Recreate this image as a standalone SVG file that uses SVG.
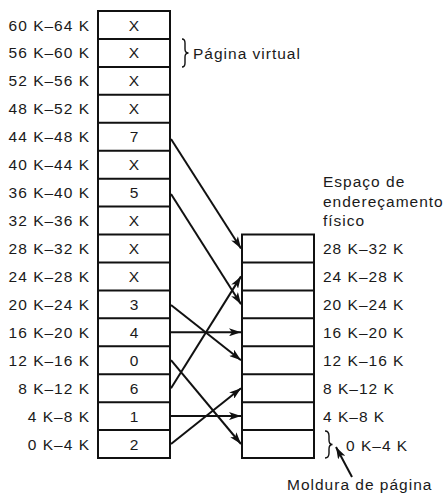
<svg xmlns="http://www.w3.org/2000/svg" width="446" height="495" viewBox="0 0 446 495">
<style>
text{font-family:"Liberation Sans",Arial,sans-serif;font-size:15.5px;letter-spacing:1px;fill:#1a1a1a}
.lbl{text-anchor:end}
.val{text-anchor:middle}
.box{fill:#fff;stroke:#111;stroke-width:2}
.arr{stroke:#111;stroke-width:2;fill:none;marker-end:url(#ah)}
.brace{stroke:#111;stroke-width:1.4;fill:none}
</style>
<defs>
<marker id="ah" viewBox="0 0 12 8" refX="12" refY="4" markerWidth="12" markerHeight="8" orient="auto" markerUnits="userSpaceOnUse">
<path d="M0,0 L12,4 L0,8 L3,4 z" fill="#111"/>
</marker>
</defs>
<rect width="446" height="495" fill="#fff"/>

<g id="virtual">
<rect class="box" x="98" y="11" width="72" height="447"/>
<path stroke="#111" stroke-width="2" d="M98,38.94H170M98,66.88H170M98,94.81H170M98,122.75H170M98,150.69H170M98,178.63H170M98,206.56H170M98,234.5H170M98,262.44H170M98,290.38H170M98,318.31H170M98,346.25H170M98,374.19H170M98,402.13H170M98,430.06H170"/>
<text class="lbl" x="90" y="30.5">60 K–64 K</text>
<text class="lbl" x="90" y="58.4">56 K–60 K</text>
<text class="lbl" x="90" y="86.3">52 K–56 K</text>
<text class="lbl" x="90" y="114.3">48 K–52 K</text>
<text class="lbl" x="90" y="142.2">44 K–48 K</text>
<text class="lbl" x="90" y="170.2">40 K–44 K</text>
<text class="lbl" x="90" y="198.1">36 K–40 K</text>
<text class="lbl" x="90" y="226">32 K–36 K</text>
<text class="lbl" x="90" y="254">28 K–32 K</text>
<text class="lbl" x="90" y="281.9">24 K–28 K</text>
<text class="lbl" x="90" y="309.8">20 K–24 K</text>
<text class="lbl" x="90" y="337.8">16 K–20 K</text>
<text class="lbl" x="90" y="365.7">12 K–16 K</text>
<text class="lbl" x="90" y="393.7">8 K–12 K</text>
<text class="lbl" x="90" y="421.6">4 K–8 K</text>
<text class="lbl" x="90" y="449.5">0 K–4 K</text>
<text class="val" x="134.5" y="30.5">X</text>
<text class="val" x="134.5" y="58.4">X</text>
<text class="val" x="134.5" y="86.3">X</text>
<text class="val" x="134.5" y="114.3">X</text>
<text class="val" x="134.5" y="142.2">7</text>
<text class="val" x="134.5" y="170.2">X</text>
<text class="val" x="134.5" y="198.1">5</text>
<text class="val" x="134.5" y="226">X</text>
<text class="val" x="134.5" y="254">X</text>
<text class="val" x="134.5" y="281.9">X</text>
<text class="val" x="134.5" y="309.8">3</text>
<text class="val" x="134.5" y="337.8">4</text>
<text class="val" x="134.5" y="365.7">0</text>
<text class="val" x="134.5" y="393.7">6</text>
<text class="val" x="134.5" y="421.6">1</text>
<text class="val" x="134.5" y="449.5">2</text>
</g>

<g id="pagina-virtual">
<path class="brace" d="M182,39 Q185,39 185,43 L185,49 Q185,53 188.5,53 Q185,53 185,57 L185,63 Q185,67 182,67"/>
<text x="193" y="58.5">Página virtual</text>
</g>

<g id="fisico">
<rect class="box" x="242" y="234.5" width="72" height="223.5"/>
<path stroke="#111" stroke-width="2" d="M242,262.44H314M242,290.38H314M242,318.31H314M242,346.25H314M242,374.19H314M242,402.13H314M242,430.06H314"/>
<text x="323" y="187">Espaço de</text>
<text x="323" y="207">endereçamento</text>
<text x="323" y="226">físico</text>
<text x="323" y="254">28 K–32 K</text>
<text x="323" y="281.9">24 K–28 K</text>
<text x="323" y="309.8">20 K–24 K</text>
<text x="323" y="337.8">16 K–20 K</text>
<text x="323" y="365.7">12 K–16 K</text>
<text x="323" y="393.7">8 K–12 K</text>
<text x="323" y="421.6">4 K–8 K</text>
<text x="346" y="451">0 K–4 K</text>
</g>

<g id="moldura">
<path class="brace" d="M325,431 Q329,431 329,436 L329,440 Q329,444.5 332.5,444.5 Q329,444.5 329,449 L329,453 Q329,458 325,458"/>
<line class="arr" x1="352" y1="477" x2="336" y2="447"/>
<text x="287" y="490">Moldura de página</text>
</g>

<g id="connectors">
<line class="arr" x1="171" y1="139" x2="241" y2="248.5"/>
<line class="arr" x1="171" y1="194" x2="241" y2="304.3"/>
<line class="arr" x1="171" y1="305" x2="241" y2="360.2"/>
<line class="arr" x1="171" y1="332.3" x2="241" y2="332.3"/>
<line class="arr" x1="171" y1="360.2" x2="241" y2="444"/>
<line class="arr" x1="171" y1="388.2" x2="241" y2="276.4"/>
<line class="arr" x1="171" y1="416.1" x2="241" y2="416.1"/>
<line class="arr" x1="171" y1="444" x2="241" y2="388.2"/>
</g>
</svg>
